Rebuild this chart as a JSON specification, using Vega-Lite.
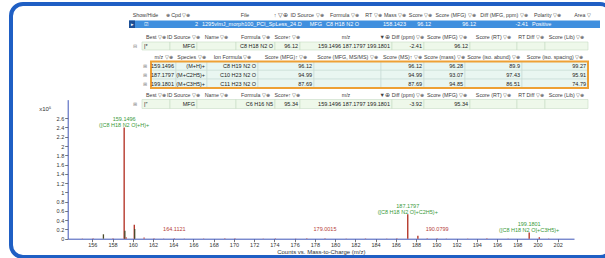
{
  "$schema": "https://vega.github.io/schema/vega-lite/v6.json",
  "width": 601,
  "height": 253,
  "autosize": {"type": "none"},
  "padding": {"left": 11, "top": 4, "right": -7, "bottom": 1},
  "background": "white",
  "config": {
    "view": {"stroke": "#1f5fc4", "strokeWidth": 4, "cornerRadius": 12},
    "font": "Liberation Sans",
    "text": {"font": "Liberation Sans"}
  },
  "datasets": {
    "peaks": [
      {"mz": 155.02, "inten": 0.006, "kind": "noise"},
      {"mz": 156.08, "inten": 0.008, "kind": "noise"},
      {"mz": 157.10, "inten": 0.095, "kind": "dark"},
      {"mz": 158.05, "inten": 0.008, "kind": "noise"},
      {"mz": 159.15, "inten": 2.40, "kind": "main"},
      {"mz": 159.22, "inten": 0.17, "kind": "dark"},
      {"mz": 159.35, "inten": 0.03, "kind": "noise"},
      {"mz": 160.15, "inten": 0.30, "kind": "main"},
      {"mz": 160.19, "inten": 0.21, "kind": "dark"},
      {"mz": 161.12, "inten": 0.025, "kind": "noise"},
      {"mz": 162.10, "inten": 0.008, "kind": "noise"},
      {"mz": 163.05, "inten": 0.006, "kind": "noise"},
      {"mz": 164.11, "inten": 0.012, "kind": "noise"},
      {"mz": 165.10, "inten": 0.006, "kind": "noise"},
      {"mz": 167.0, "inten": 0.007, "kind": "noise"},
      {"mz": 169.1, "inten": 0.008, "kind": "noise"},
      {"mz": 170.1, "inten": 0.01, "kind": "noise"},
      {"mz": 172.9, "inten": 0.006, "kind": "noise"},
      {"mz": 174.1, "inten": 0.009, "kind": "noise"},
      {"mz": 176.1, "inten": 0.007, "kind": "noise"},
      {"mz": 177.2, "inten": 0.008, "kind": "noise"},
      {"mz": 179.0, "inten": 0.01, "kind": "noise"},
      {"mz": 181.1, "inten": 0.006, "kind": "noise"},
      {"mz": 183.0, "inten": 0.008, "kind": "noise"},
      {"mz": 185.1, "inten": 0.007, "kind": "noise"},
      {"mz": 186.1, "inten": 0.008, "kind": "noise"},
      {"mz": 187.18, "inten": 0.53, "kind": "main"},
      {"mz": 188.18, "inten": 0.065, "kind": "main"},
      {"mz": 189.1, "inten": 0.008, "kind": "noise"},
      {"mz": 190.08, "inten": 0.012, "kind": "noise"},
      {"mz": 191.0, "inten": 0.006, "kind": "noise"},
      {"mz": 193.1, "inten": 0.007, "kind": "noise"},
      {"mz": 195.0, "inten": 0.008, "kind": "noise"},
      {"mz": 197.1, "inten": 0.006, "kind": "noise"},
      {"mz": 199.18, "inten": 0.135, "kind": "main"},
      {"mz": 200.18, "inten": 0.03, "kind": "main"},
      {"mz": 201.1, "inten": 0.006, "kind": "noise"}
    ],
    "labels": [
      {"mz": 159.1496, "inten": 2.40, "grp": "ion", "lab": "159.1496\n([C8 H18 N2 O]+H)+"},
      {"mz": 187.1797, "inten": 0.53, "grp": "ion", "lab": "187.1797\n([C8 H18 N2 O]+C2H5)+"},
      {"mz": 199.1801, "inten": 0.135, "grp": "ion", "lab": "199.1801\n([C8 H18 N2 O]+C3H5)+"},
      {"mz": 164.1121, "inten": 0.012, "grp": "other", "lab": "164.1121"},
      {"mz": 179.0015, "inten": 0.01, "grp": "other", "lab": "179.0015"},
      {"mz": 190.0799, "inten": 0.012, "grp": "other", "lab": "190.0799"}
    ],
    "cells": [
      {"a": 0, "b": 13, "p": 0, "q": 14, "kind": "panel"},
      {"a": 0, "b": 13, "p": 1, "q": 2, "kind": "sel"},
      {"a": 0, "b": 1, "p": 1, "q": 2, "kind": "arrow"},
      {"a": 100, "b": 101, "p": 4, "q": 5, "kind": "cellB"},
      {"a": 101, "b": 102, "p": 4, "q": 5, "kind": "cellB"},
      {"a": 102, "b": 103, "p": 4, "q": 5, "kind": "cellB"},
      {"a": 103, "b": 104, "p": 4, "q": 5, "kind": "cellB"},
      {"a": 104, "b": 105, "p": 4, "q": 5, "kind": "cellB"},
      {"a": 105, "b": 106, "p": 4, "q": 5, "kind": "cellB"},
      {"a": 106, "b": 107, "p": 4, "q": 5, "kind": "cellB"},
      {"a": 107, "b": 108, "p": 4, "q": 5, "kind": "cellB"},
      {"a": 108, "b": 109, "p": 4, "q": 5, "kind": "cellB"},
      {"a": 109, "b": 110, "p": 4, "q": 5, "kind": "cellB"},
      {"a": 110, "b": 111, "p": 4, "q": 5, "kind": "cellB"},
      {"a": 100, "b": 101, "p": 12, "q": 13, "kind": "cellB"},
      {"a": 101, "b": 102, "p": 12, "q": 13, "kind": "cellB"},
      {"a": 102, "b": 103, "p": 12, "q": 13, "kind": "cellB"},
      {"a": 103, "b": 104, "p": 12, "q": 13, "kind": "cellB"},
      {"a": 104, "b": 105, "p": 12, "q": 13, "kind": "cellB"},
      {"a": 105, "b": 106, "p": 12, "q": 13, "kind": "cellB"},
      {"a": 106, "b": 107, "p": 12, "q": 13, "kind": "cellB"},
      {"a": 107, "b": 108, "p": 12, "q": 13, "kind": "cellB"},
      {"a": 108, "b": 109, "p": 12, "q": 13, "kind": "cellB"},
      {"a": 109, "b": 110, "p": 12, "q": 13, "kind": "cellB"},
      {"a": 110, "b": 111, "p": 12, "q": 13, "kind": "cellB"},
      {"a": 200, "b": 201, "p": 7, "q": 8, "kind": "cellC"},
      {"a": 201, "b": 202, "p": 7, "q": 8, "kind": "cellC"},
      {"a": 202, "b": 203, "p": 7, "q": 8, "kind": "cellC"},
      {"a": 203, "b": 204, "p": 7, "q": 8, "kind": "cellC"},
      {"a": 204, "b": 205, "p": 7, "q": 8, "kind": "cellC"},
      {"a": 205, "b": 206, "p": 7, "q": 8, "kind": "cellC"},
      {"a": 206, "b": 207, "p": 7, "q": 8, "kind": "cellC"},
      {"a": 207, "b": 208, "p": 7, "q": 8, "kind": "cellC"},
      {"a": 208, "b": 209, "p": 7, "q": 8, "kind": "cellC"},
      {"a": 200, "b": 201, "p": 8, "q": 9, "kind": "cellC"},
      {"a": 201, "b": 202, "p": 8, "q": 9, "kind": "cellC"},
      {"a": 202, "b": 203, "p": 8, "q": 9, "kind": "cellC"},
      {"a": 203, "b": 204, "p": 8, "q": 9, "kind": "cellC"},
      {"a": 204, "b": 205, "p": 8, "q": 9, "kind": "cellC"},
      {"a": 205, "b": 206, "p": 8, "q": 9, "kind": "cellC"},
      {"a": 206, "b": 207, "p": 8, "q": 9, "kind": "cellC"},
      {"a": 207, "b": 208, "p": 8, "q": 9, "kind": "cellC"},
      {"a": 208, "b": 209, "p": 8, "q": 9, "kind": "cellC"},
      {"a": 200, "b": 201, "p": 9, "q": 10, "kind": "cellC"},
      {"a": 201, "b": 202, "p": 9, "q": 10, "kind": "cellC"},
      {"a": 202, "b": 203, "p": 9, "q": 10, "kind": "cellC"},
      {"a": 203, "b": 204, "p": 9, "q": 10, "kind": "cellC"},
      {"a": 204, "b": 205, "p": 9, "q": 10, "kind": "cellC"},
      {"a": 205, "b": 206, "p": 9, "q": 10, "kind": "cellC"},
      {"a": 206, "b": 207, "p": 9, "q": 10, "kind": "cellC"},
      {"a": 207, "b": 208, "p": 9, "q": 10, "kind": "cellC"},
      {"a": 208, "b": 209, "p": 9, "q": 10, "kind": "cellC"},
      {"a": 200, "b": 209, "p": 7, "q": 10, "kind": "box"}
    ],
    "texts": [
      {"a": 1.5, "p": 0.5, "t": "Show/Hide", "j": "C", "role": "hdr"},
      {"a": 2.5, "p": 0.5, "t": "⊕ Cpd ▽⊕", "j": "C", "role": "hdr"},
      {"a": 3.5, "p": 0.5, "t": "File", "j": "C", "role": "hdr"},
      {"a": 4, "p": 0.5, "t": "↑ ▽⊕", "j": "R", "role": "hdr"},
      {"a": 4.5, "p": 0.5, "t": "ID Source ▽⊕", "j": "C", "role": "hdr"},
      {"a": 5.5, "p": 0.5, "t": "Formula ▽⊕", "j": "C", "role": "hdr"},
      {"a": 6.5, "p": 0.5, "t": "RT ▽⊕", "j": "C", "role": "hdr"},
      {"a": 7.5, "p": 0.5, "t": "Mass ▽⊕", "j": "C", "role": "hdr"},
      {"a": 8.5, "p": 0.5, "t": "Score ▽⊕", "j": "C", "role": "hdr"},
      {"a": 9.5, "p": 0.5, "t": "Score (MFG) ▽⊕", "j": "C", "role": "hdr"},
      {"a": 10.5, "p": 0.5, "t": "Diff (MFG, ppm) ▽⊕", "j": "C", "role": "hdr"},
      {"a": 11.5, "p": 0.5, "t": "Polarity ▽⊕", "j": "C", "role": "hdr"},
      {"a": 12.5, "p": 0.5, "t": "Area ▽", "j": "C", "role": "hdr"},
      {"a": 0.5, "p": 1.5, "t": "▸", "j": "C", "role": "sel"},
      {"a": 1.5, "p": 1.5, "t": "☑", "j": "C", "role": "sel"},
      {"a": 3, "p": 1.5, "t": "2", "j": "R", "role": "sel"},
      {"a": 3, "p": 1.5, "t": "1295vlmJ_morph100_PCI_SpLess_24.D", "j": "L", "role": "sel"},
      {"a": 5, "p": 1.5, "t": "MFG", "j": "R", "role": "sel"},
      {"a": 5, "p": 1.5, "t": "C8 H18 N2 O", "j": "L", "role": "sel"},
      {"a": 8, "p": 1.5, "t": "158.1423", "j": "R", "role": "sel"},
      {"a": 9, "p": 1.5, "t": "96.12", "j": "R", "role": "sel"},
      {"a": 10, "p": 1.5, "t": "96.12", "j": "R", "role": "sel"},
      {"a": 11, "p": 1.5, "t": "-2.41", "j": "R", "role": "sel"},
      {"a": 11, "p": 1.5, "t": "Positive", "j": "L", "role": "sel"},
      {"a": 100.5, "p": 3.5, "t": "Best ▽⊕", "j": "C", "role": "hdr"},
      {"a": 101.5, "p": 3.5, "t": "ID Source ▽⊕", "j": "C", "role": "hdr"},
      {"a": 102.5, "p": 3.5, "t": "Name ▽⊕", "j": "C", "role": "hdr"},
      {"a": 103.5, "p": 3.5, "t": "Formula ▽⊕", "j": "C", "role": "hdr"},
      {"a": 104.5, "p": 3.5, "t": "Score↑ ▽⊕", "j": "C", "role": "hdr"},
      {"a": 105.5, "p": 3.5, "t": "m/z", "j": "C", "role": "hdr"},
      {"a": 106, "p": 3.5, "t": "▼⊕", "j": "R", "role": "hdr"},
      {"a": 106.5, "p": 3.5, "t": "Diff (ppm) ▽⊕", "j": "C", "role": "hdr"},
      {"a": 107.5, "p": 3.5, "t": "Score (MFG) ▽⊕", "j": "C", "role": "hdr"},
      {"a": 108.5, "p": 3.5, "t": "Score (RT) ▽⊕", "j": "C", "role": "hdr"},
      {"a": 109.5, "p": 3.5, "t": "RT Diff ▽⊕", "j": "C", "role": "hdr"},
      {"a": 110.5, "p": 3.5, "t": "Score (Lib) ▽⊕", "j": "C", "role": "hdr"},
      {"a": 99.5, "p": 4.5, "t": "⊟", "j": "C", "role": "icon"},
      {"a": 100, "p": 4.5, "t": "|*", "j": "L", "role": "val"},
      {"a": 102, "p": 4.5, "t": "MFG", "j": "R", "role": "val"},
      {"a": 104, "p": 4.5, "t": "C8 H18 N2 O", "j": "R", "role": "val"},
      {"a": 105, "p": 4.5, "t": "96.12", "j": "R", "role": "val"},
      {"a": 106, "p": 4.5, "t": "159.1496 187.1797 199.1801", "j": "R", "role": "val"},
      {"a": 107, "p": 4.5, "t": "-2.41", "j": "R", "role": "val"},
      {"a": 108, "p": 4.5, "t": "96.12", "j": "R", "role": "val"},
      {"a": 200.5, "p": 6.5, "t": "m/z ▽⊕", "j": "C", "role": "hdr"},
      {"a": 201.5, "p": 6.5, "t": "Species ▽⊕", "j": "C", "role": "hdr"},
      {"a": 202.5, "p": 6.5, "t": "Ion Formula ▽⊕", "j": "C", "role": "hdr"},
      {"a": 203.5, "p": 6.5, "t": "Score (MFG)↑ ▽⊕", "j": "C", "role": "hdr"},
      {"a": 204.5, "p": 6.5, "t": "Score (MFG, MS/MS) ▽⊕", "j": "C", "role": "hdr"},
      {"a": 205.5, "p": 6.5, "t": "Score (MS)↑ ▽⊕", "j": "C", "role": "hdr"},
      {"a": 206.5, "p": 6.5, "t": "Score (mass) ▽⊕", "j": "C", "role": "hdr"},
      {"a": 207.5, "p": 6.5, "t": "Score (iso. abund) ▽⊕", "j": "C", "role": "hdr"},
      {"a": 208.5, "p": 6.5, "t": "Score (iso. spacing) ▽⊕", "j": "C", "role": "hdr"},
      {"a": 199.5, "p": 7.5, "t": "⊞", "j": "C", "role": "icon"},
      {"a": 201, "p": 7.5, "t": "159.1496", "j": "R", "role": "val"},
      {"a": 202, "p": 7.5, "t": "(M+H)+", "j": "R", "role": "val"},
      {"a": 203, "p": 7.5, "t": "C8 H19 N2 O", "j": "R", "role": "val"},
      {"a": 204, "p": 7.5, "t": "96.12", "j": "R", "role": "val"},
      {"a": 206, "p": 7.5, "t": "96.12", "j": "R", "role": "val"},
      {"a": 207, "p": 7.5, "t": "96.28", "j": "R", "role": "val"},
      {"a": 208, "p": 7.5, "t": "89.9", "j": "R", "role": "val"},
      {"a": 209, "p": 7.5, "t": "99.27", "j": "R", "role": "val"},
      {"a": 199.5, "p": 8.5, "t": "⊞", "j": "C", "role": "icon"},
      {"a": 201, "p": 8.5, "t": "187.1797", "j": "R", "role": "val"},
      {"a": 202, "p": 8.5, "t": "(M+C2H5)+", "j": "R", "role": "val"},
      {"a": 203, "p": 8.5, "t": "C10 H23 N2 O", "j": "R", "role": "val"},
      {"a": 204, "p": 8.5, "t": "94.99", "j": "R", "role": "val"},
      {"a": 206, "p": 8.5, "t": "94.99", "j": "R", "role": "val"},
      {"a": 207, "p": 8.5, "t": "93.07", "j": "R", "role": "val"},
      {"a": 208, "p": 8.5, "t": "97.43", "j": "R", "role": "val"},
      {"a": 209, "p": 8.5, "t": "95.91", "j": "R", "role": "val"},
      {"a": 199.5, "p": 9.5, "t": "⊞", "j": "C", "role": "icon"},
      {"a": 201, "p": 9.5, "t": "199.1801", "j": "R", "role": "val"},
      {"a": 202, "p": 9.5, "t": "(M+C3H5)+", "j": "R", "role": "val"},
      {"a": 203, "p": 9.5, "t": "C11 H23 N2 O", "j": "R", "role": "val"},
      {"a": 204, "p": 9.5, "t": "87.69", "j": "R", "role": "val"},
      {"a": 206, "p": 9.5, "t": "87.69", "j": "R", "role": "val"},
      {"a": 207, "p": 9.5, "t": "94.85", "j": "R", "role": "val"},
      {"a": 208, "p": 9.5, "t": "86.51", "j": "R", "role": "val"},
      {"a": 209, "p": 9.5, "t": "74.79", "j": "R", "role": "val"},
      {"a": 100.5, "p": 11.5, "t": "Best ▽⊕", "j": "C", "role": "hdr"},
      {"a": 101.5, "p": 11.5, "t": "ID Source ▽⊕", "j": "C", "role": "hdr"},
      {"a": 102.5, "p": 11.5, "t": "Name ▽⊕", "j": "C", "role": "hdr"},
      {"a": 103.5, "p": 11.5, "t": "Formula ▽⊕", "j": "C", "role": "hdr"},
      {"a": 104.5, "p": 11.5, "t": "Score↑ ▽⊕", "j": "C", "role": "hdr"},
      {"a": 105.5, "p": 11.5, "t": "m/z", "j": "C", "role": "hdr"},
      {"a": 106, "p": 11.5, "t": "▼⊕", "j": "R", "role": "hdr"},
      {"a": 106.5, "p": 11.5, "t": "Diff (ppm) ▽⊕", "j": "C", "role": "hdr"},
      {"a": 107.5, "p": 11.5, "t": "Score (MFG) ▽⊕", "j": "C", "role": "hdr"},
      {"a": 108.5, "p": 11.5, "t": "Score (RT) ▽⊕", "j": "C", "role": "hdr"},
      {"a": 109.5, "p": 11.5, "t": "RT Diff ▽⊕", "j": "C", "role": "hdr"},
      {"a": 110.5, "p": 11.5, "t": "Score (Lib) ▽⊕", "j": "C", "role": "hdr"},
      {"a": 99.5, "p": 12.5, "t": "⊞", "j": "C", "role": "icon"},
      {"a": 100, "p": 12.5, "t": "|″", "j": "L", "role": "val"},
      {"a": 102, "p": 12.5, "t": "MFG", "j": "R", "role": "val"},
      {"a": 104, "p": 12.5, "t": "C6 H16 N5", "j": "R", "role": "val"},
      {"a": 105, "p": 12.5, "t": "95.34", "j": "R", "role": "val"},
      {"a": 106, "p": 12.5, "t": "159.1496 187.1797 199.1801", "j": "R", "role": "val"},
      {"a": 107, "p": 12.5, "t": "-3.92", "j": "R", "role": "val"},
      {"a": 108, "p": 12.5, "t": "95.34", "j": "R", "role": "val"}
    ]
  },
  "resolve": {
    "scale": {"x": "independent", "y": "independent", "color": "independent"},
    "axis": {"x": "independent", "y": "independent"}
  },
  "layer": [
    {
      "encoding": {
        "x": {
          "field": "mz", "type": "quantitative",
          "scale": {"domain": [153.57, 203.61], "range": [56.7, 563], "nice": false, "zero": false},
          "axis": {
            "title": "Counts vs. Mass-to-Charge (m/z)",
            "values": [156, 158, 160, 162, 164, 166, 168, 170, 172, 174, 176, 178, 180, 182, 184, 186, 188, 190, 192, 194, 196, 198, 200, 202],
            "offset": -18.3, "grid": false,
            "domainColor": "#3f56b8", "tickColor": "#777777", "tickSize": 3,
            "labelFont": "Liberation Sans", "labelFontSize": 5.5, "labelColor": "#333333", "labelPadding": 1,
            "titleFont": "Liberation Sans", "titleFontSize": 6, "titleFontWeight": "normal", "titleColor": "#333333", "titlePadding": 0
          }
        },
        "y": {
          "field": "inten", "type": "quantitative",
          "scale": {"domain": [0, 3], "range": [234.7, 95.65], "nice": false, "zero": false},
          "axis": {
            "title": "x10⁵",
            "values": [0, 0.2, 0.4, 0.6, 0.8, 1, 1.2, 1.4, 1.6, 1.8, 2, 2.2, 2.4, 2.6],
            "format": "~g", "offset": -56.7, "grid": false,
            "domainColor": "#3f56b8", "tickColor": "#777777", "tickSize": 3,
            "labelFont": "Liberation Sans", "labelFontSize": 5.5, "labelColor": "#333333", "labelPadding": 1,
            "titleFont": "Liberation Sans", "titleFontSize": 6, "titleFontWeight": "normal", "titleColor": "#333333",
            "titleAngle": 0, "titleAlign": "left", "titleBaseline": "middle", "titleX": -29, "titleY": 104
          }
        }
      },
      "layer": [
        {
          "data": {"values": [{}]},
          "mark": {"type": "rect", "filled": false, "color": "#6b80d4", "strokeWidth": 1},
          "encoding": {
            "x": {"datum": 153.57, "type": "quantitative"},
            "x2": {"datum": 203.61},
            "y": {"datum": 0, "type": "quantitative"},
            "y2": {"datum": 3}
          }
        },
        {
          "data": {"name": "peaks"},
          "mark": {"type": "rule", "strokeWidth": 1.3},
          "encoding": {
            "y2": {"datum": 0},
            "color": {"field": "kind", "type": "nominal", "scale": {"domain": ["main", "dark", "noise"], "range": ["#b02a1c", "#4a4a2a", "#c0504d"]}, "legend": null}
          }
        },
        {
          "data": {"name": "labels"},
          "transform": [{"filter": "datum.grp == 'ion'"}],
          "mark": {"type": "text", "lineBreak": "\n", "baseline": "bottom", "dy": -5, "fontSize": 5.5, "lineHeight": 6, "color": "#3a9a3a", "font": "Liberation Sans"},
          "encoding": {"text": {"field": "lab"}}
        },
        {
          "data": {"name": "labels"},
          "transform": [{"filter": "datum.grp == 'other'"}],
          "mark": {"type": "text", "baseline": "bottom", "dy": -6, "fontSize": 5.5, "color": "#b5403a", "font": "Liberation Sans"},
          "encoding": {"text": {"field": "lab"}}
        }
      ]
    },
    {
      "encoding": {
        "x": {
          "field": "a", "type": "quantitative", "axis": null,
          "scale": {
            "nice": false, "zero": false,
            "domain": [0, 1, 2, 3, 4, 5, 6, 7, 8, 9, 10, 11, 12, 13, 99, 100, 101, 102, 103, 104, 105, 106, 107, 108, 109, 110, 111, 199, 200, 201, 202, 203, 204, 205, 206, 207, 208, 209],
            "range": [118, 124, 145, 189, 279, 313, 354, 371, 397, 422, 467, 519, 554, 589, 117, 131, 159, 186, 225, 264, 289, 381, 413, 459, 506, 534, 577, 128, 140, 165, 196, 247, 303, 370, 413, 454, 511, 577]
          }
        },
        "y": {
          "field": "p", "type": "quantitative", "axis": null,
          "scale": {
            "nice": false, "zero": false,
            "domain": [0, 1, 2, 3, 4, 5, 6, 7, 8, 9, 10, 11, 12, 13, 14],
            "range": [6, 16.5, 24, 28, 38, 46, 48, 57.5, 66.3, 75.1, 84, 87, 95.5, 104.5, 108]
          }
        }
      },
      "layer": [
        {
          "data": {"name": "cells"},
          "transform": [{"filter": "datum.kind == 'panel'"}],
          "mark": {"type": "rect", "fill": "#ffffff"},
          "encoding": {"x2": {"field": "b"}, "y2": {"field": "q"}}
        },
        {
          "data": {"name": "cells"},
          "transform": [{"filter": "datum.kind == 'sel'"}],
          "mark": {"type": "rect", "fill": "#3f8fde"},
          "encoding": {"x2": {"field": "b"}, "y2": {"field": "q"}}
        },
        {
          "data": {"name": "cells"},
          "transform": [{"filter": "datum.kind == 'arrow'"}],
          "mark": {"type": "rect", "fill": "#1c4f96"},
          "encoding": {"x2": {"field": "b"}, "y2": {"field": "q"}}
        },
        {
          "data": {"name": "cells"},
          "transform": [{"filter": "datum.kind == 'cellB'"}],
          "mark": {"type": "rect", "fill": "#eef8ea", "stroke": "#c8dcc4", "strokeWidth": 0.6},
          "encoding": {"x2": {"field": "b"}, "y2": {"field": "q"}}
        },
        {
          "data": {"name": "cells"},
          "transform": [{"filter": "datum.kind == 'cellC'"}],
          "mark": {"type": "rect", "fill": "#e9f6f1", "stroke": "#c6dad3", "strokeWidth": 0.6},
          "encoding": {"x2": {"field": "b"}, "y2": {"field": "q"}}
        },
        {
          "data": {"name": "cells"},
          "transform": [{"filter": "datum.kind == 'box'"}],
          "mark": {"type": "rect", "fill": null, "stroke": "#eea035", "strokeWidth": 2},
          "encoding": {"x2": {"field": "b"}, "y2": {"field": "q"}}
        },
        {
          "data": {"name": "texts"},
          "transform": [{"filter": "datum.j == 'L'"}],
          "mark": {"type": "text", "align": "left", "baseline": "middle", "dx": 2, "fontSize": 5.5, "font": "Liberation Sans"},
          "encoding": {
            "text": {"field": "t"},
            "color": {"field": "role", "type": "nominal", "scale": {"domain": ["hdr", "val", "sel", "icon"], "range": ["#404040", "#222222", "#ffffff", "#8a8a8a"]}, "legend": null}
          }
        },
        {
          "data": {"name": "texts"},
          "transform": [{"filter": "datum.j == 'R'"}],
          "mark": {"type": "text", "align": "right", "baseline": "middle", "dx": -2, "fontSize": 5.5, "font": "Liberation Sans"},
          "encoding": {
            "text": {"field": "t"},
            "color": {"field": "role", "type": "nominal", "scale": {"domain": ["hdr", "val", "sel", "icon"], "range": ["#404040", "#222222", "#ffffff", "#8a8a8a"]}, "legend": null}
          }
        },
        {
          "data": {"name": "texts"},
          "transform": [{"filter": "datum.j == 'C'"}],
          "mark": {"type": "text", "align": "center", "baseline": "middle", "fontSize": 5.3, "font": "Liberation Sans"},
          "encoding": {
            "text": {"field": "t"},
            "color": {"field": "role", "type": "nominal", "scale": {"domain": ["hdr", "val", "sel", "icon"], "range": ["#404040", "#222222", "#ffffff", "#8a8a8a"]}, "legend": null}
          }
        }
      ]
    }
  ]
}
